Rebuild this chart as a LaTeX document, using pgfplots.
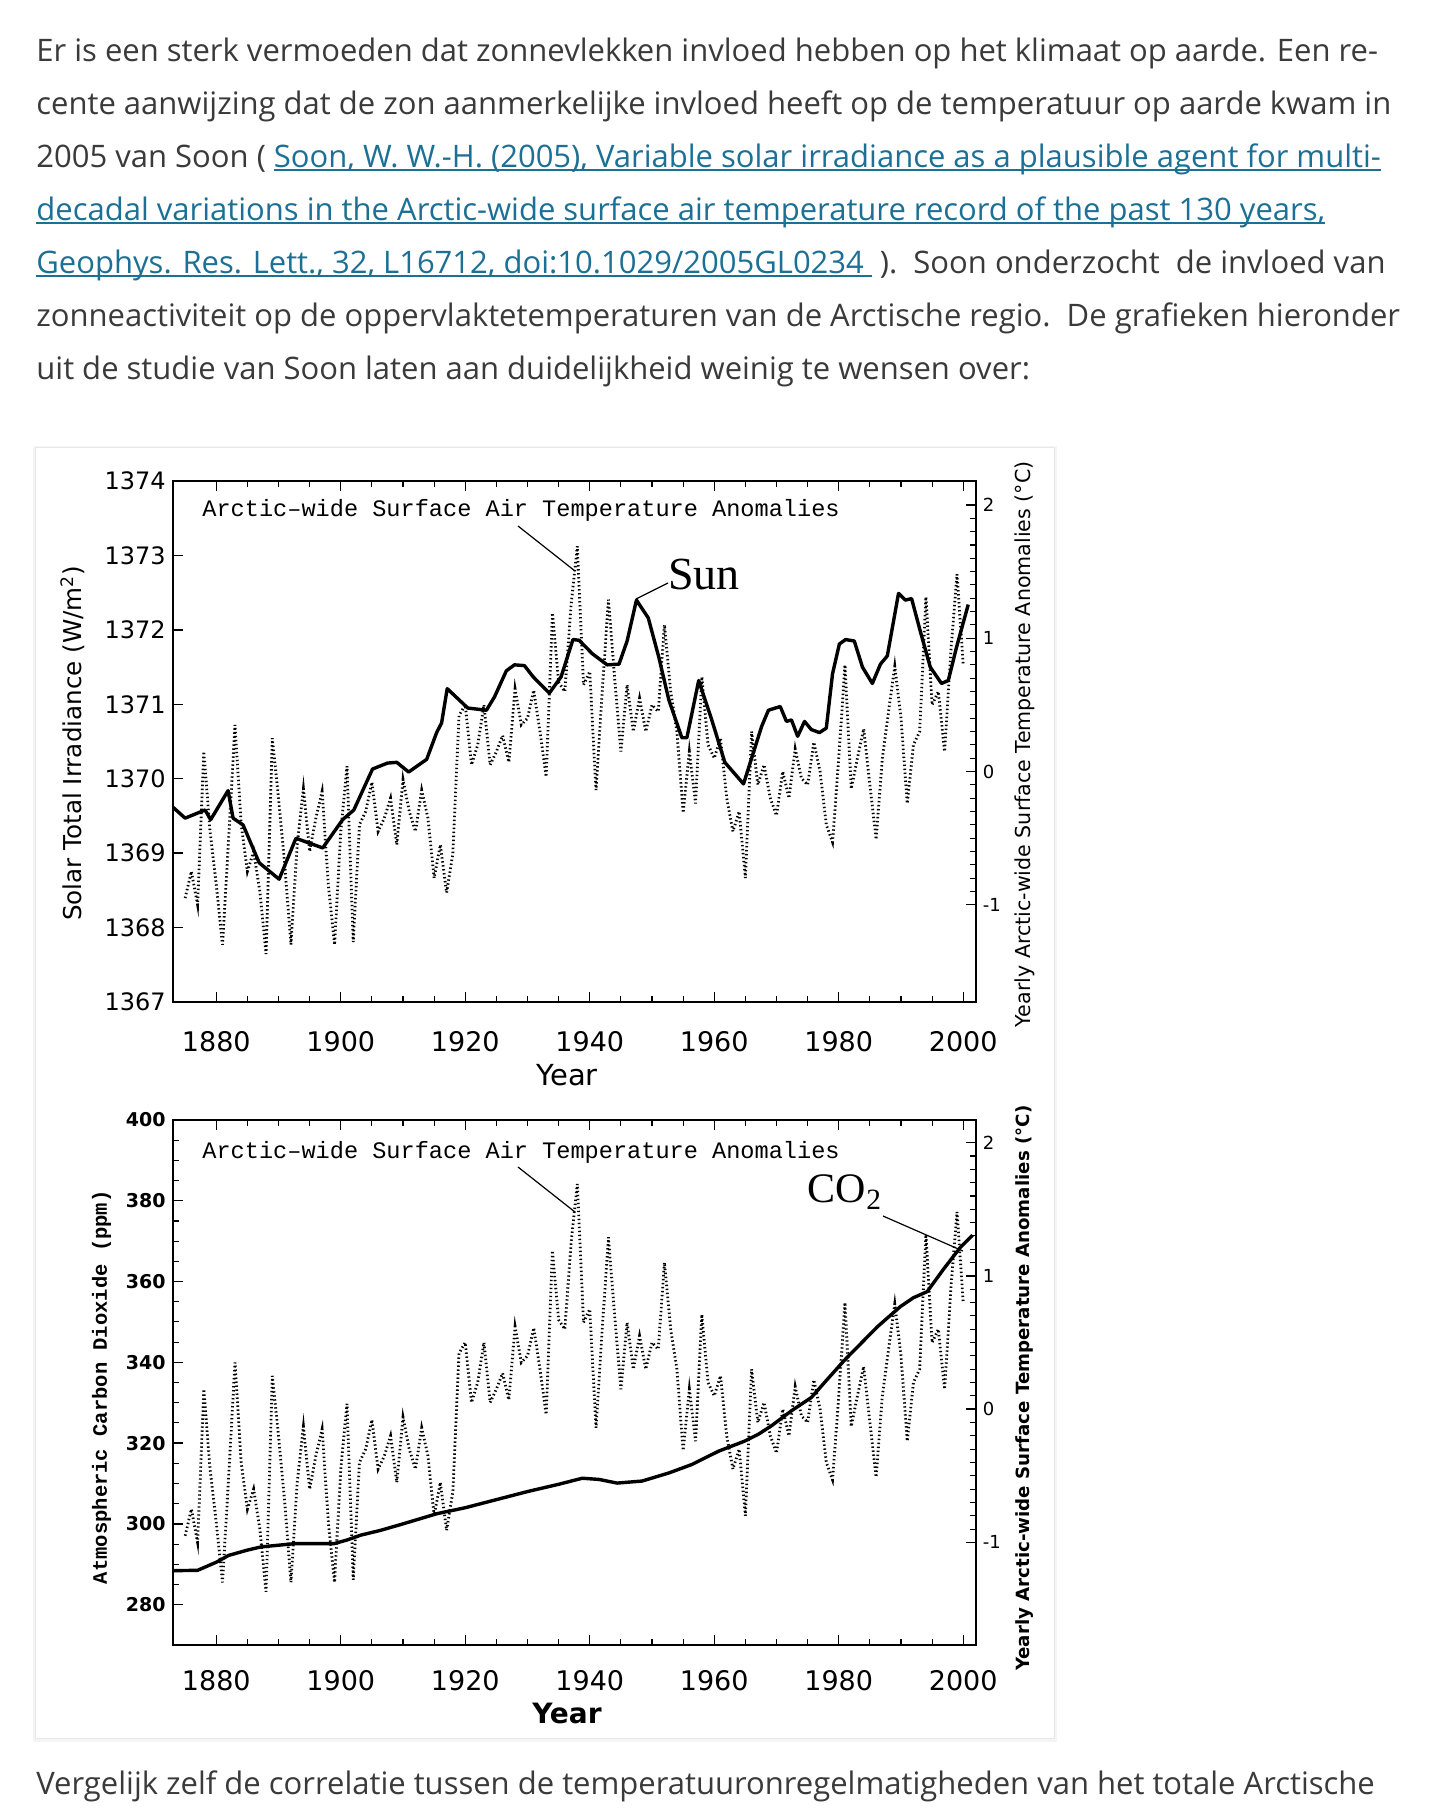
\documentclass[border=0pt]{standalone}
\usepackage{fontspec}
\setmainfont{Open Sans}
\usepackage{pgfplots}
\pgfplotsset{compat=1.18}
\usepackage{pgfplotstable}
\definecolor{bodyc}{RGB}{58,58,58}
\definecolor{linkc}{RGB}{28,112,150}
\newfontfamily\tickf{DejaVu Sans}
\newfontfamily\monof{Liberation Mono}
\newfontfamily\serf{Liberation Serif}
\newcommand\lnk[1]{\setbox0\hbox{#1}\rlap{\rule[-1.6pt]{\wd0}{0.7pt}}\box0}

\pgfplotstableread{
year T
1875 -0.95
1876 -0.75
1877 -1.0
1878 0.15
1879 -0.45
1880 -0.85
1881 -1.3
1882 -0.5
1883 0.35
1884 -0.4
1885 -0.75
1886 -0.6
1887 -0.9
1888 -1.37
1889 0.25
1890 -0.2
1891 -0.7
1892 -1.3
1893 -0.55
1894 -0.13
1895 -0.6
1896 -0.35
1897 -0.15
1898 -0.85
1899 -1.3
1900 -0.45
1901 0.04
1902 -1.28
1903 -0.4
1904 -0.3
1905 -0.08
1906 -0.45
1907 -0.35
1908 -0.2
1909 -0.55
1910 -0.06
1911 -0.3
1912 -0.45
1913 -0.14
1914 -0.35
1915 -0.8
1916 -0.55
1917 -0.91
1918 -0.62
1919 0.42
1920 0.5
1921 0.05
1922 0.2
1923 0.5
1924 0.05
1925 0.15
1926 0.27
1927 0.07
1928 0.62
1929 0.35
1930 0.4
1931 0.61
1932 0.3
1933 -0.04
1934 1.19
1935 0.67
1936 0.6
1937 1.25
1938 1.69
1939 0.65
1940 0.75
1941 -0.14
1942 0.6
1943 1.29
1944 0.7
1945 0.15
1946 0.65
1947 0.3
1948 0.55
1949 0.3
1950 0.5
1951 0.45
1952 1.1
1953 0.6
1954 0.3
1955 -0.31
1956 0.15
1957 -0.24
1958 0.71
1959 0.2
1960 0.1
1961 0.25
1962 -0.2
1963 -0.45
1964 -0.3
1965 -0.8
1966 0.3
1967 -0.1
1968 0.05
1969 -0.2
1970 -0.33
1971 0.0
1972 -0.2
1973 0.17
1974 -0.05
1975 -0.1
1976 0.22
1977 0.0
1978 -0.4
1979 -0.53
1980 0.1
1981 0.8
1982 -0.13
1983 0.1
1984 0.32
1985 -0.1
1986 -0.51
1987 0.1
1988 0.45
1989 0.79
1990 0.4
1991 -0.24
1992 0.2
1993 0.3
1994 1.31
1995 0.5
1996 0.6
1997 0.15
1998 0.9
1999 1.48
2000 0.8
}\temps

\pgfplotstableread{
year S
1873 1369.62
1875 1369.47
1878.2 1369.58
1879.1 1369.45
1881.9 1369.84
1882.7 1369.47
1884.3 1369.38
1886.9 1368.87
1890.1 1368.65
1892.8 1369.20
1897.1 1369.07
1900.3 1369.45
1902.1 1369.58
1905.1 1370.13
1907.5 1370.21
1909.0 1370.22
1910.9 1370.09
1913.8 1370.26
1915.4 1370.62
1916.2 1370.75
1917.1 1371.21
1920.4 1370.95
1923.4 1370.92
1924.7 1371.10
1926.6 1371.45
1927.9 1371.53
1929.5 1371.52
1930.9 1371.37
1933.5 1371.15
1935.4 1371.37
1937.3 1371.87
1938.3 1371.86
1940.4 1371.68
1942.8 1371.53
1944.7 1371.54
1946.0 1371.85
1947.5 1372.40
1949.4 1372.16
1951.1 1371.63
1952.7 1371.06
1954.8 1370.55
1955.6 1370.55
1957.5 1371.32
1959.6 1370.79
1961.7 1370.22
1964.7 1369.93
1967.6 1370.70
1968.7 1370.92
1970.6 1370.97
1971.6 1370.77
1972.4 1370.79
1973.4 1370.57
1974.5 1370.77
1975.6 1370.66
1976.9 1370.62
1978.0 1370.68
1979.0 1371.41
1980.1 1371.81
1981.1 1371.87
1982.5 1371.85
1983.8 1371.50
1985.4 1371.28
1986.7 1371.54
1987.8 1371.65
1989.6 1372.49
1990.7 1372.40
1991.7 1372.42
1993.1 1371.98
1994.7 1371.50
1996.5 1371.28
1997.6 1371.32
1998.9 1371.76
2000.8 1372.34
}\sun

\pgfplotstableread{
year C
1873 288.4
1877 288.5
1880 290.5
1882 292.2
1885 293.5
1887.2 294.3
1892.6 295.1
1898.9 295.1
1901 296
1903.2 297.2
1906.4 298.4
1910 300
1915.4 302.5
1920 304
1925 306
1930 308
1935 309.8
1938.8 311.3
1941.5 311.0
1944.4 310.1
1948.4 310.6
1952.7 312.6
1956.4 314.7
1960.7 318
1964.9 320.5
1967.1 322.2
1969.2 324.3
1972.4 328
1975.6 331.3
1978 335.5
1980.9 340.5
1986.2 348.8
1989.9 353.8
1992 356
1994.2 357.5
1996.8 363
1999.5 368.4
2001.5 371.5
}\cotwo

\pgfplotsset{
  common/.style={
    scale only axis, width=401.5pt, anchor=north west,
    xmin=1873, xmax=2002,
    /pgf/number format/1000 sep={},
    /pgf/number format/assume math mode=true,
    tick align=inside,
    major tick length=5pt, minor tick length=3pt,
    major tick style={black, line width=0.7pt},
    minor tick style={black, line width=0.55pt},
    axis line style={line width=1pt},
  },
  tempdots/.style={black, line width=1.4pt, dash pattern=on 0.7pt off 1.3pt},
}

\begin{document}
\begin{tikzpicture}
\useasboundingbox (0,0) rectangle (721.5pt,-908.5pt);
\fill[white] (0,0) rectangle (721.5pt,-908.5pt);
\begin{scope}[x=0.5pt,y=-0.5pt]
  % card
  \fill[black!4] (33,446) rectangle (1057,1742);
  \fill[white, draw=black!9, line width=0.5pt] (35,447) rectangle (1054,1738);
  % paragraph
  \begin{scope}[every node/.style={anchor=base west, inner sep=0pt, text=bodyc, font=\fontsize{15.5pt}{18pt}\selectfont}]
  \node at (36,61.3) {Er is een sterk vermoeden dat zonnevlekken invloed hebben op het klimaat op aarde. Een re-};
  \node at (36,114.3) {cente aanwijzing dat de zon aanmerkelijke invloed heeft op de temperatuur op aarde kwam in};
  \node at (36,167.3) {2005 van Soon ( \textcolor{linkc}{\lnk{Soon, W. W.-H. (2005), Variable solar irradiance as a plausible agent for multi-}}};
  \node at (36,220.3) {\textcolor{linkc}{\lnk{decadal variations in the Arctic-wide surface air temperature record of the past 130 years,}}};
  \node at (36,273.3) {\textcolor{linkc}{\lnk{Geophys. Res. Lett., 32, L16712, doi:10.1029/2005GL0234\ }} ).\ \ Soon onderzocht\ \ de invloed van};
  \node at (36,326.3) {zonneactiviteit op de oppervlaktetemperaturen van de Arctische regio.\ \ De grafieken hieronder};
  \node at (36,379.3) {uit de studie van Soon laten aan duidelijkheid weinig te wensen over:};
  \node at (36,1794) {Vergelijk zelf de correlatie tussen de temperatuuronregelmatigheden van het totale Arctische};
  \end{scope}
\end{scope}

% ---------- top panel: solar irradiance ----------
\begin{axis}[common, at={(86.35pt,-240.5pt)}, height=260.5pt,
  ymin=1367, ymax=1374,
  xtick={1880,1900,...,2000}, minor x tick num=3, xtick pos=both, xticklabel pos=bottom,
  ytick={1367,...,1374}, minor y tick num=9, ytick pos=left,
  xticklabel style={font=\tickf\fontsize{13.5pt}{15pt}\selectfont, yshift=-11pt},
  yticklabel style={font=\tickf\fontsize{12pt}{14pt}\selectfont},
  xlabel={Year}, xlabel style={font=\tickf\fontsize{14.5pt}{16pt}\selectfont, at={(axis description cs:0.491,-0.1412)}, anchor=center},
  ylabel={Solar Total Irradiance (W/m\textsuperscript{2})},
  ylabel style={font=\tickf\fontsize{12.3pt}{14pt}\selectfont, at={(axis description cs:-0.1245,0.4966)}, anchor=center},
]
\addplot[black, line width=1.7pt, line join=round] table[x=year, y=S] {\sun};
\end{axis}
\begin{axis}[common, at={(86.35pt,-240.5pt)}, height=260.5pt,
  ymin=-1.73, ymax=2.18,
  axis y line*=right, axis x line=none,
  ytick={-1,0,1,2}, minor y tick num=9,
  yticklabel style={font=\tickf\fontsize{9pt}{10pt}\selectfont},
  ylabel={Yearly Arctic-wide Surface Temperature Anomalies (°C)},
  ylabel style={font=\tickf\fontsize{10.3pt}{12pt}\selectfont, at={(axis description cs:1.0614,0.4947)}, anchor=center},
]
\addplot[tempdots] table[x=year, y=T] {\temps};
\end{axis}

% ---------- bottom panel: CO2 ----------
\begin{axis}[common, at={(86.35pt,-560pt)}, height=262.5pt,
  ymin=270, ymax=400,
  xtick={1880,1900,...,2000}, minor x tick num=3, xtick pos=both, xticklabel pos=bottom,
  ytick={280,300,...,400}, minor y tick num=3, ytick pos=left,
  xticklabel style={font=\tickf\fontsize{13.5pt}{15pt}\selectfont, yshift=-9pt},
  yticklabel style={font=\tickf\bfseries\fontsize{9.5pt}{11pt}\selectfont},
  xlabel={Year}, xlabel style={font=\tickf\bfseries\fontsize{14pt}{16pt}\selectfont, at={(axis description cs:0.491,-0.131)}, anchor=center},
  ylabel={Atmospheric Carbon Dioxide (ppm)},
  ylabel style={font=\monof\bfseries\fontsize{10.25pt}{12pt}\selectfont, at={(axis description cs:-0.0885,0.491)}, anchor=center},
]
\addplot[black, line width=1.7pt, line join=round] table[x=year, y=C] {\cotwo};
\end{axis}
\begin{axis}[common, at={(86.35pt,-560pt)}, height=262.5pt,
  ymin=-1.77, ymax=2.17,
  axis y line*=right, axis x line=none,
  ytick={-1,0,1,2}, minor y tick num=9,
  yticklabel style={font=\tickf\fontsize{9pt}{10pt}\selectfont},
  ylabel={Yearly Arctic-wide Surface Temperature Anomalies (°C)},
  ylabel style={font=\tickf\bfseries\fontsize{9.1pt}{11pt}\selectfont, at={(axis description cs:1.0614,0.489)}, anchor=center},
]
\addplot[tempdots] table[x=year, y=T] {\temps};
\end{axis}

% ---------- annotations ----------
\begin{scope}[x=0.5pt,y=-0.5pt]
  \node[font=\monof\fontsize{11.8pt}{13pt}\selectfont, anchor=west, inner sep=0pt] at (202,510) {Arctic–wide Surface Air Temperature Anomalies};
  \draw[line width=0.6pt] (518,526) -- (575,571);
  \node[font=\serf\fontsize{23pt}{25pt}\selectfont, inner sep=0pt] at (704,574) {Sun};
  \draw[line width=0.6pt] (668,583) -- (636,599);
  \node[font=\monof\fontsize{11.8pt}{13pt}\selectfont, anchor=west, inner sep=0pt] at (202,1152) {Arctic–wide Surface Air Temperature Anomalies};
  \draw[line width=0.6pt] (518,1167) -- (575,1212);
  \node[font=\serf\fontsize{21pt}{23pt}\selectfont, inner sep=0pt] at (845,1192) {CO\textsubscript{2}};
  \draw[line width=0.6pt] (883,1216) -- (963,1251);
\end{scope}
\end{tikzpicture}
\end{document}
